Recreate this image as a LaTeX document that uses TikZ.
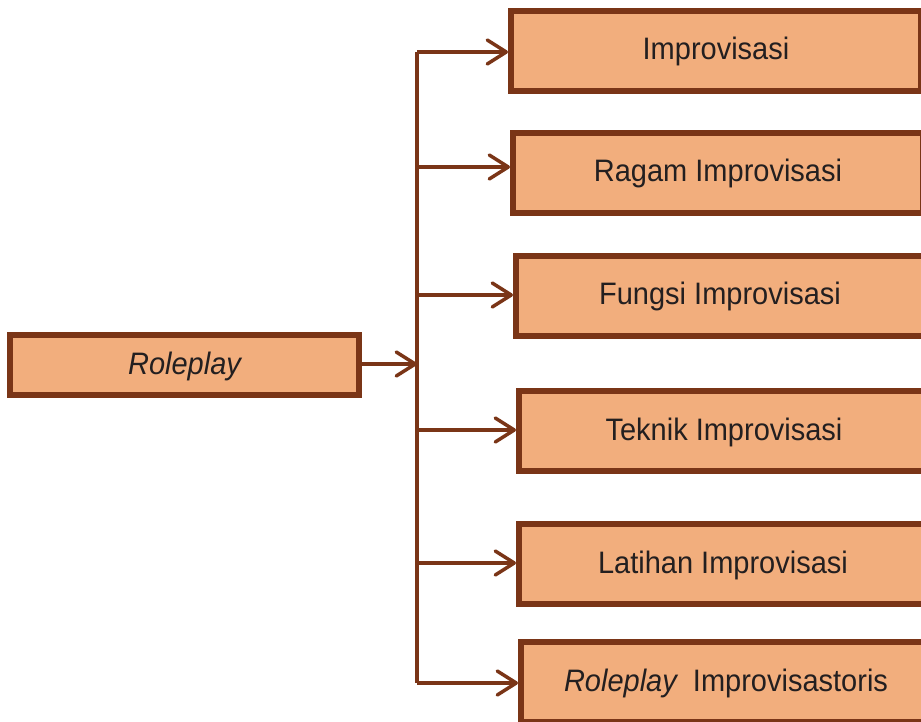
\documentclass[tikz,border=0pt]{standalone}
\usepackage{fontspec}
\setmainfont{Liberation Sans}
\usetikzlibrary{arrows.meta}
\definecolor{brd}{HTML}{7A3517}
\definecolor{fil}{HTML}{F2AE7D}
\definecolor{txt}{HTML}{231F20}
\newcommand{\tall}[1]{\scalebox{1}[1.07]{#1}}
\begin{document}
\begin{tikzpicture}[x=1pt,y=-1pt,
  box/.style={draw=brd,fill=fil,line width=6pt,minimum height=80pt,inner sep=0pt,
     text height=27pt,text depth=9pt,
     text=txt,font=\fontsize{29}{34}\selectfont},
  rbox/.style={box,minimum width=410pt,anchor=west},
  conn/.style={draw=brd,line width=3.5pt},
  arr/.style={conn,-{Straight Barb[length=19pt,width=24pt,line cap=round,line join=round]}}]
\useasboundingbox (0,0) rectangle (921,722);
\clip (0,0) rectangle (921,722);
\node[box,minimum width=349pt,minimum height=60pt] (root) at (184.5,365) {\tall{\itshape Roleplay}};
\node[rbox] (b1) at (508,51) {\tall{Improvisasi}};
\node[rbox] (b2) at (510,173) {\tall{Ragam Improvisasi}};
\node[rbox,minimum width=408pt] (b3) at (513,295.5) {\tall{Fungsi Improvisasi}};
\node[rbox] (b4) at (516,431) {\tall{Teknik Improvisasi}};
\node[rbox,minimum width=408pt] (b5) at (516,564) {\tall{Latihan Improvisasi}};
\node[rbox] (b6) at (518,682) {\tall{\itshape Roleplay\upshape\ \ Improvisastoris}};
\coordinate (j1) at (417,52);
\coordinate (j2) at (417,167);
\coordinate (j3) at (417,295);
\coordinate (j4) at (417,430);
\coordinate (j5) at (417,563);
\coordinate (j6) at (417,683);
\coordinate (jr) at (417,364);
\draw[conn] (j1) -- (j6);
\draw[arr] (root.east |- jr) -- (jr);
\draw[arr] (j1) -- (j1 -| b1.west);
\draw[arr] (j2) -- (j2 -| b2.west);
\draw[arr] (j3) -- (j3 -| b3.west);
\draw[arr] (j4) -- (j4 -| b4.west);
\draw[arr] (j5) -- (j5 -| b5.west);
\draw[arr] (j6) -- (j6 -| b6.west);
\end{tikzpicture}
\end{document}
